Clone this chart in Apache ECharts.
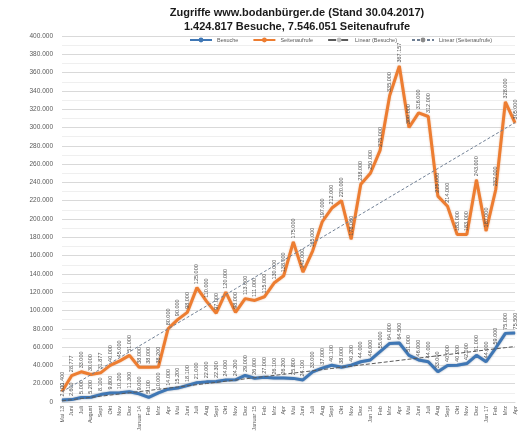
<!DOCTYPE html>
<html>
<head>
<meta charset="utf-8">
<script src="https://cdn.jsdelivr.net/npm/echarts@6/dist/echarts.min.js"></script>
<style>
  html, body { margin: 0; padding: 0; background: #fff; }
  #chart { width: 524px; height: 439px; }
</style>
</head>
<body>
<div id="chart"></div>
<script>
// Monate Mai 2013 - April 2017
const months = [
  'Mai 13', 'Juni', 'Juli', 'August', 'Sept', 'Okt', 'Nov', 'Dez',
  'Januar 14', 'Feb', 'Mrz', 'Apr', 'Mai', 'Juni', 'Juli', 'Aug', 'Sept', 'Okt', 'Nov', 'Dez',
  'Januar 15', 'Feb', 'Mrz', 'Apr', 'Mai', 'Juni', 'Juli', 'Aug', 'Sept', 'Okt', 'Nov', 'Dez',
  'Jan 16', 'Feb', 'Mrz', 'Apr', 'Mai', 'Juni', 'Juli', 'Aug', 'Sept', 'Okt', 'Nov', 'Dez',
  'Jan 17', 'Feb', 'Mrz', 'Apr'
]
// Besuche pro Monat
const besuche = [
  2100, 2600, 5000, 5200, 8100, 9800, 10200, 11300, 9000, 5100,
  10000, 14000, 15200, 18100, 21000, 22000, 22300, 24000, 24200, 29000,
  26000, 27000, 26100, 26200, 25800, 24100, 33000, 37000, 40100, 38000,
  40200, 44000, 46000, 55000, 64000, 64500, 51000, 46000, 44000, 33000,
  40000, 40200, 42000, 51000, 44000, 59000, 75000, 75500
]
// Seitenaufrufe pro Monat
const seitenaufrufe = [
  11400, 28777, 33000, 30000, 31877, 40000, 45000, 51000, 38000, 38000,
  38200, 80000, 90000, 98000, 125000, 110000, 97000, 120000, 98000, 113000,
  111000, 115000, 130000, 138000, 175000, 142000, 165000, 197000, 212000, 220000,
  178000, 238000, 250000, 275000, 335000, 367157, 300000, 316000, 312000, 225000,
  214000, 183000, 183000, 243000, 187000, 232000, 328000, 305000
]
const yTicks = { min: 0, max: 400000, step: 20000 }

// lineare Trendlinie (wie in Excel)
function linear(arr) {
  const n = arr.length
  let sx = 0, sy = 0, sxy = 0, sxx = 0
  arr.forEach((v, i) => { sx += i; sy += v; sxy += i * v; sxx += i * i })
  const b = (n * sxy - sx * sy) / (n * sxx - sx * sx)
  const a = (sy - b * sx) / n
  return arr.map((v, i) => Math.round(a + b * i))
}

function dots(v) {
  return String(Math.round(v)).replace(/\B(?=(\d{3})+(?!\d))/g, '.')
}

const chart = echarts.init(document.getElementById('chart'))

// Datenbeschriftung, senkrecht
const pointLabel = {
  show: true,
  rotate: 90,
  align: 'left',
  verticalAlign: 'middle',
  position: 'top',
  distance: 3,
  fontSize: 5.5,
  color: '#505050',
  fontFamily: 'Liberation Sans',
  formatter: p => dots(p.value)
}

const option = {
  animation: false,
  textStyle: { fontFamily: 'Liberation Sans' },
  title: {
    text: 'Zugriffe www.bodanbürger.de (Stand 30.04.2017)\n1.424.817 Besuche, 7.546.051 Seitenaufrufe',
    left: 292,
    textAlign: 'center',
    top: 1,
    textStyle: { fontSize: 11, fontWeight: 'bold', color: '#1a1a1a', lineHeight: 14, fontFamily: 'Liberation Sans' }
  },
  legend: {
    top: 32,
    left: 184,
    itemWidth: 22,
    itemHeight: 6,
    itemGap: 14,
    textStyle: { fontSize: 5.5, color: '#595959' },
    data: ['Besuche', 'Seitenaufrufe', 'Linear (Besuche)', 'Linear (Seitenaufrufe)']
  },
  grid: { left: 62, right: 9, top: 36, bottom: 37 },
  xAxis: {
    type: 'category',
    data: months,
    boundaryGap: false,
    axisLine: { lineStyle: { color: '#d9d9d9' } },
    axisTick: { show: false },
    axisLabel: { interval: 0, rotate: 90, fontSize: 5.5, color: '#595959', margin: 4 }
  },
  yAxis: {
    type: 'value',
    min: yTicks.min,
    max: yTicks.max,
    interval: yTicks.step,
    axisLine: { show: false },
    axisTick: { show: false },
    axisLabel: { fontSize: 6.5, color: '#595959', margin: 9, formatter: v => dots(v) },
    splitLine: { lineStyle: { color: '#d9d9d9', width: 1 } },
    minorTick: { show: false, splitNumber: 2 },
    minorSplitLine: { show: true, lineStyle: { color: '#efefef', width: 1 } }
  },
  series: [
    {
      name: 'Besuche',
      type: 'line',
      data: besuche,
      symbol: 'circle',
      symbolSize: 1,
      showSymbol: true,
      z: 4,
      lineStyle: { color: '#3f77b5', width: 3, shadowColor: 'rgba(30,60,100,0.5)', shadowBlur: 2 },
      itemStyle: { color: '#3f77b5' },
      label: pointLabel,
      labelLayout: { hideOverlap: false }
    },
    {
      name: 'Seitenaufrufe',
      type: 'line',
      data: seitenaufrufe,
      symbol: 'circle',
      symbolSize: 1,
      showSymbol: true,
      z: 3,
      lineStyle: { color: '#ed7d31', width: 3, shadowColor: 'rgba(200,90,20,0.4)', shadowBlur: 2 },
      itemStyle: { color: '#ed7d31' },
      label: pointLabel,
      labelLayout: { hideOverlap: false }
    },
    {
      name: 'Linear (Besuche)',
      type: 'line',
      data: linear(besuche),
      symbol: 'none',
      z: 5,
      lineStyle: { color: '#5a5a5a', width: 1, type: 'dashed' },
      itemStyle: { color: '#bfbfbf' }
    },
    {
      name: 'Linear (Seitenaufrufe)',
      type: 'line',
      data: linear(seitenaufrufe),
      symbol: 'none',
      z: 5,
      lineStyle: { color: '#6f7f94', width: 1, type: [3, 2] },
      itemStyle: { color: '#8a8a8a' }
    }
  ]
}

option && chart.setOption(option)
</script>
</body>
</html>
